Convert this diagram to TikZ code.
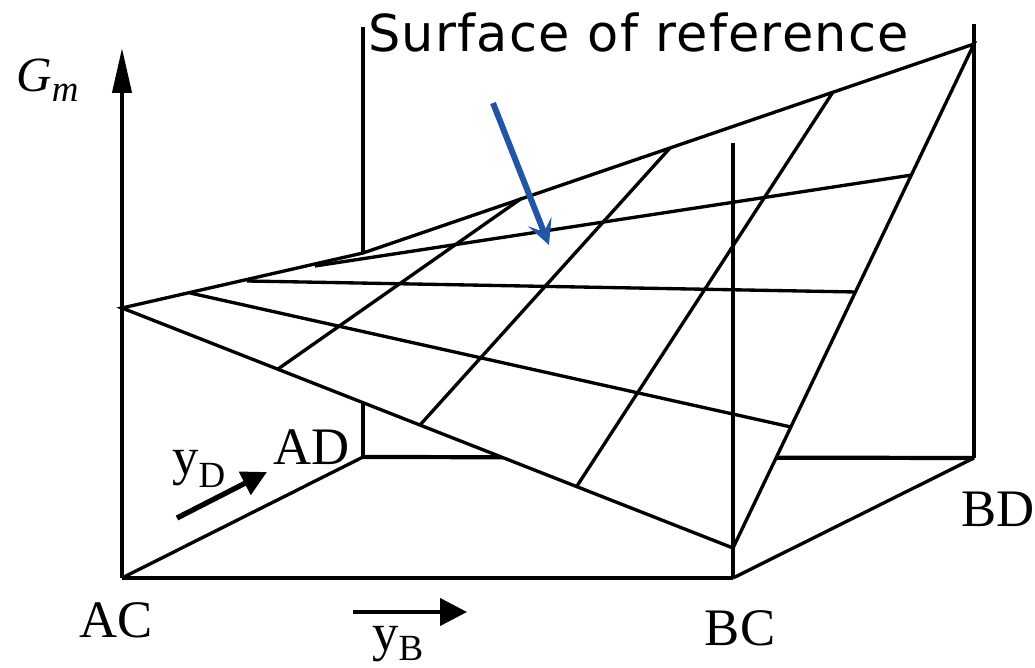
\documentclass[tikz,border=0pt]{standalone}
\usepackage{fontspec}
\setmainfont{Liberation Serif}
\newfontfamily\surffont[LetterSpace=2.5]{DejaVu Sans}
\usetikzlibrary{arrows.meta}
\definecolor{arrowblue}{RGB}{33,85,165}

\begin{document}
\begin{tikzpicture}[x=0.02cm,y=-0.02cm,
  edge/.style={line width=2.4pt},
  surf/.style={line width=1.9pt},
  lab/.style={inner sep=0pt,font=\fontsize{30}{30}\selectfont}]
\useasboundingbox (0,0) rectangle (1035,668);
% base corners
\coordinate (ac) at (122,578);
\coordinate (bc) at (733,578);
\coordinate (bd) at (974,458);
\coordinate (ad) at (363,457);
% surface corners
\coordinate (sac) at (122,308);
\coordinate (sbc) at (733,548);
\coordinate (sbd) at (974,44);
\coordinate (sad) at (363,253);

% back of the box, hidden by the surface
\begin{scope}[edge]
	\draw (ad)--(363,27);
	\draw (ad)--(bd);
	\draw (bd)--(974,24);
\end{scope}
\draw[surf] (ac)--(ad);
\draw[surf] (bc)--(bd);

\fill[white] (sac)--(sbc)--(sbd)--(sad)--cycle;

\begin{scope}[surf]
	\draw (sac)--(sbc)--(sbd)--(sad)--cycle;
	\foreach \xa/\ya/\xb/\yb in {190/293/791/427, 247/281/856/292, 315/266/912/175,
		278/369/522/198, 420/425/670/148, 577/486/833/92}
	\draw (\xa,\ya)--(\xb,\yb);
\end{scope}

% front of the box
\begin{scope}[edge]
	\draw (bc)--(733,143);
	\draw (ac)--(bc);
	\draw[-{Triangle[length=0.9cm,width=0.38cm]}] (ac)--(122,48);
\end{scope}

\draw[line width=3pt,-{Triangle[length=0.5cm,width=0.5cm]}] (177,518)--(267,472);
\draw[line width=2.5pt,-{Triangle[length=0.54cm,width=0.54cm]}] (353,612)--(467,612);
\draw[arrowblue,line width=3.4pt,-{Stealth[length=0.5cm,width=0.5cm,inset=0.22cm]}] (493,103)--(549,245);

\node[lab,anchor=base west] (gm) at (16,92) {\fontsize{28}{28}\selectfont\itshape G\raisebox{-5.5pt}{\fontsize{21}{21}\selectfont m}};
\node[anchor=base west,inner sep=0pt] (title) at (368,52) {\surffont\fontsize{29}{29}\selectfont Surface of reference};
\node[lab,anchor=base] (lac) at (116,638) {AC};
\node[lab,anchor=base] (lbc) at (740,646) {BC};
\node[lab,anchor=base] (lbd) at (998,527) {BD};
\node[lab,anchor=base] (lad) at (312,465) {AD};
\node[lab,anchor=base west] (lyd) at (172,475) {y\raisebox{-7pt}{\fontsize{21}{21}\selectfont D}};
\node[lab,anchor=base west] (lyb) at (372,651) {y\raisebox{-5.5pt}{\fontsize{21}{21}\selectfont B}};
\end{tikzpicture}
\end{document}
